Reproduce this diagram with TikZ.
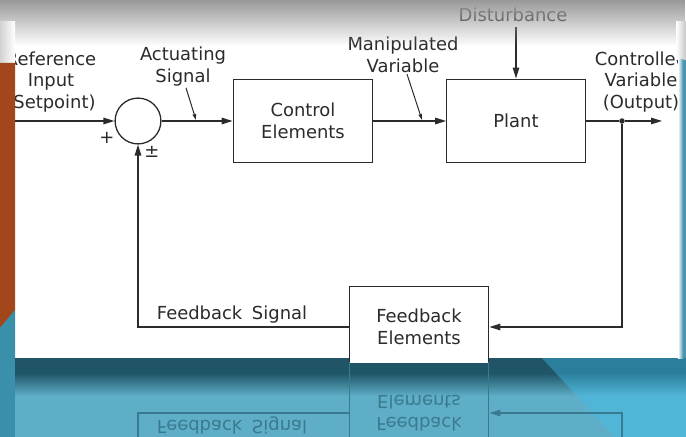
\documentclass[tikz,border=0pt]{standalone}
\usepackage{fontspec}
\setmainfont{DejaVu Sans}
\usetikzlibrary{arrows.meta,fadings}

\definecolor{linec}{HTML}{2B2B2B}
\definecolor{orangec}{HTML}{A2461B}
\definecolor{tealc}{HTML}{3A8FAA}
\definecolor{darkband}{HTML}{1F5566}
\definecolor{lowblue}{HTML}{5FAEC7}
\definecolor{brightblue}{HTML}{3EC0F0}
\definecolor{sideblue}{HTML}{4B97B2}
\definecolor{reflc}{HTML}{3A7A90}

\newcommand\lblfont{\fontsize{18}{22}\selectfont}
\tikzfading[name=fade down, top color=transparent!0, bottom color=transparent!100]

\tikzset{
  block/.style={draw=linec, line width=1.3pt, fill=white, minimum width=140, minimum height=84, font=\lblfont, align=center, text=linec},
  sumc/.style={draw=linec, line width=1.3pt, circle, minimum size=46, inner sep=0pt},
  dotc/.style={circle, fill=linec, inner sep=0pt, minimum size=5.5pt},
  lbl/.style={font=\lblfont, align=center, text=linec, inner sep=1pt},
  line/.style={draw=linec, line width=1.2pt},
  sig/.style={line, -{Triangle[length=11pt,width=6.5pt]}},
  ptr/.style={draw=linec, line width=1pt, -{Triangle[length=6pt,width=3.5pt]}}
}

\begin{document}
\begin{tikzpicture}[x=1bp, y=-1bp]
  \useasboundingbox (0,0) rectangle (686,437);
  \clip (0,0) rectangle (686,437);

  % slide background
  \fill[white] (0,0) rectangle (686,437);
  \fill[lowblue] (0,356) rectangle (686,437);
  \fill[darkband] (0,356) rectangle (686,374);
  \shade[top color=darkband, bottom color=lowblue] (0,373) rectangle (686,396);
  \fill[brightblue, opacity=0.4] (540,356) -- (686,356) -- (686,437) -- (615,437) -- cycle;
  \fill[tealc] (0,300) rectangle (15,437);
  \fill[white] (15,22) rectangle (681,358);

  % loop
  \begin{scope}
    \clip (0,0) rectangle (686,362);
    \node[sumc] (sum) at (138,121) {};
    \node[block] (ctrl) at (303,121) {Control\\Elements};
    \node[block, minimum width=139] (plant) at (516,121) {Plant};
    \node[block, minimum height=154, anchor=north] (fbe) at (419,286) {};
    \node[lbl] (fbetext) at (419,327) {Feedback\\Elements};
    \node[dotc] (dot) at (622,121) {};
    \coordinate (refin) at (4,121);
    \coordinate (out) at (662,121);

    \draw[sig] (refin) -- (sum.west);
    \draw[sig] (sum.east) -- (ctrl.west);
    \draw[sig] (ctrl.east) -- (plant.west);
    \draw[line] (plant.east) -- (dot);
    \draw[sig] (dot) -- (out);
    \draw[sig] (dot) |- (fbe.east |- fbetext);
    \draw[sig] (fbe.west |- fbetext) -| (sum.south);

    \node[lbl] (dist) at (513,15) {Disturbance};
    \draw[sig, shorten <=4pt] (plant.north |- dist.south) -- (plant.north);

    \node[lbl] (refl) at (51,82) {Reference\\Input\\(Setpoint)};
    \node[lbl] (act) at (183,67) {Actuating\\Signal};
    \node[lbl] (manip) at (403,55) {Manipulated\\Variable};
    \node[lbl] (cv) at (641,82) {Controlled\\Variable\\(Output)};
    \node[lbl] (fbsig) at (232,315) {Feedback\hspace{4pt} Signal};
    \node[lbl] (plus) at (107,138) {+};
    \node[lbl] (pm) at (152,152) {±};

    \coordinate (actp) at (196,120);
    \coordinate (manp) at (422,120);
    \draw[ptr] ([xshift=3pt]act.south) -- (actp);
    \draw[ptr] ([xshift=4pt]manip.south) -- (manp);
  \end{scope}

  % reflection below the panel
  \begin{scope}[shift={(0,740)}, yscale=-1, transform shape]
    \clip (0,303) rectangle (686,378);
    \node[block, draw=reflc, fill=none, text=reflc, minimum height=154, anchor=north] (rfbe) at (419,286) {};
    \node[lbl, text=reflc] (rfbetext) at (419,327) {Feedback\\Elements};
    \node[lbl, text=reflc] (rfbsig) at (232,315) {Feedback\hspace{4pt} Signal};
    \coordinate (rdot) at (622,240);
    \coordinate (rsum) at (138,240);
    \draw[sig, draw=reflc] (rdot) |- (rfbe.east |- rfbetext);
    \draw[line, draw=reflc] (rfbe.west |- rfbetext) -| (rsum);
  \end{scope}

  % overlays of the slide frame
  \fill[gray!80, path fading=fade down] (0,0) rectangle (686,46);
  \shade[left color=gray!35, right color=white] (0,22) rectangle (15,63);
  \shade[left color=white, right color=gray!45] (676,22) rectangle (686,60);
  \fill[orangec] (0,63) -- (15,63) -- (15,310) -- (0,328) -- cycle;
  \fill[tealc] (0,328) -- (15,310) -- (15,358) -- (0,358) -- cycle;
  \shade[left color=white, right color=sideblue] (678,60) rectangle (683,358);
  \fill[sideblue] (683,60) rectangle (686,358);
\end{tikzpicture}
\end{document}
